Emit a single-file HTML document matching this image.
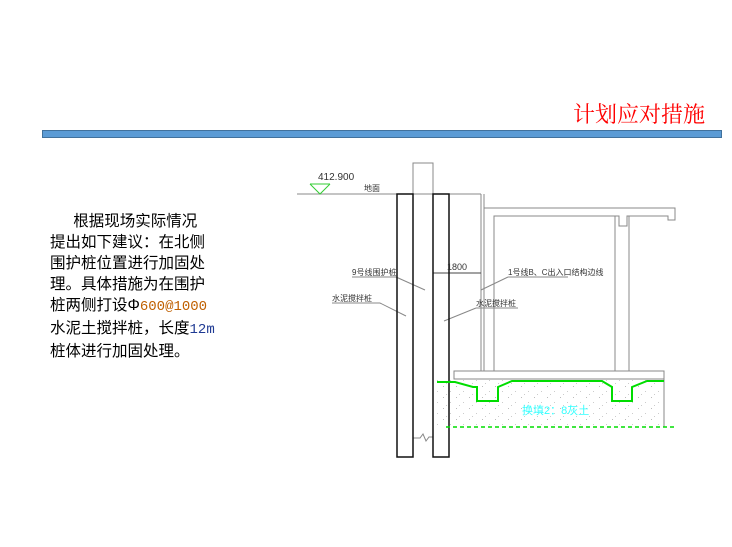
<!DOCTYPE html>
<html><head><meta charset="utf-8"><style>
body{margin:0;width:732px;height:547px;background:#fff;position:relative;overflow:hidden}
.t{position:absolute;left:545px;top:98px;width:160px;text-align:right;font-family:"Noto Serif CJK SC","Liberation Serif",serif;font-size:22px;color:#f00}
.bar{position:absolute;left:42px;top:130px;width:678px;height:6px;background:#5b9bd5;border:1px solid #41719c}
.p{position:absolute;left:50px;top:211px;width:180px;font-family:"Liberation Sans","Noto Sans CJK SC",sans-serif;font-size:15.5px;line-height:21px;color:#000}
.b{color:#1f3a93;font-family:"Liberation Mono",monospace;font-size:14px}
</style></head><body>
<div class="t">计划应对措施</div>
<div class="bar"></div>
<div class="p">&emsp;&ensp;根据现场实际情况<br>提出如下建议：在北侧<br>围护桩位置进行加固处<br>理。具体措施为在围护<br>桩两侧打设Φ<span class="b" style="color:#c06000">600@1000</span><br>水泥土搅拌桩，长度<span class="b">12m</span><br>桩体进行加固处理。</div>
<svg width="732" height="547" style="position:absolute;left:0;top:0">
<defs><pattern id="dots" width="13" height="11" patternUnits="userSpaceOnUse">
<rect x="1" y="1" width="1" height="1" fill="#bbb"/><rect x="8" y="6" width="1" height="1" fill="#ccc"/><rect x="4" y="9" width="1" height="1" fill="#ccc"/></pattern></defs>
<rect x="435" y="379" width="229" height="48" fill="url(#dots)"/>
<g fill="none" stroke="#888" stroke-width="1">
<line x1="297" y1="194" x2="397" y2="194"/>
<line x1="449" y1="194" x2="481" y2="194"/>
<rect x="413" y="163" width="20" height="31"/>
<polyline points="481,194 481,371"/><polyline points="484,194 484,208 675,208 675,220 668,220 668,216 627,216 627,226 619,226 619,216 494,216 494,371"/>
<line x1="484" y1="208" x2="484" y2="371"/>
<line x1="615" y1="216" x2="615" y2="371"/><line x1="629" y1="216" x2="629" y2="371"/>
<rect x="454" y="371" width="210" height="8"/>
<line x1="664" y1="379" x2="664" y2="427"/>
<polyline points="413,438 420,438 423,434 426,441 429,437 433,437"/>
<line x1="310" y1="184" x2="330" y2="184" stroke="#3c3"/>
<polyline points="310,184 320,194 330,184" stroke="#3c3"/>
<line x1="352" y1="277" x2="396" y2="277"/><line x1="396" y1="277" x2="425" y2="290"/>
<line x1="332" y1="303" x2="380" y2="303"/><line x1="380" y1="303" x2="406" y2="316"/>
<line x1="433" y1="273" x2="481" y2="273" stroke="#444"/>
<line x1="508" y1="277" x2="568" y2="277"/><line x1="508" y1="277" x2="481" y2="290"/>
<line x1="476" y1="308" x2="518" y2="308"/><line x1="476" y1="308" x2="444" y2="321"/>
</g>
<g fill="none" stroke="#111" stroke-width="1.5">
<rect x="397" y="194" width="16" height="263"/>
<rect x="433" y="194" width="16" height="263"/>
</g>
<polyline fill="none" stroke="#0d0" stroke-width="2" points="437,382 455,382 473,387 477,387 477,401 498,401 498,387 512,381 602,381 612,387 612,401 632,401 632,387 647,381 664,381"/>
<line x1="446" y1="427" x2="674" y2="427" stroke="#0d0" stroke-width="1.5" stroke-dasharray="4,3"/>
<g font-family="Liberation Sans,Noto Sans CJK SC,sans-serif" fill="#333">
<text x="318" y="180" font-size="10">412.900</text>
<text x="364" y="191" font-size="8">地面</text>
<text x="352" y="275" font-size="8">9号线围护桩</text>
<text x="332" y="301" font-size="8">水泥搅拌桩</text>
<text x="447" y="270" font-size="9">1800</text>
<text x="508" y="275" font-size="8">1号线B、C出入口结构边线</text>
<text x="476" y="306" font-size="8">水泥搅拌桩</text>
<text x="522" y="414" font-size="11" fill="#3ff">换填2：8灰土</text>
</g>
</svg>
</body></html>
